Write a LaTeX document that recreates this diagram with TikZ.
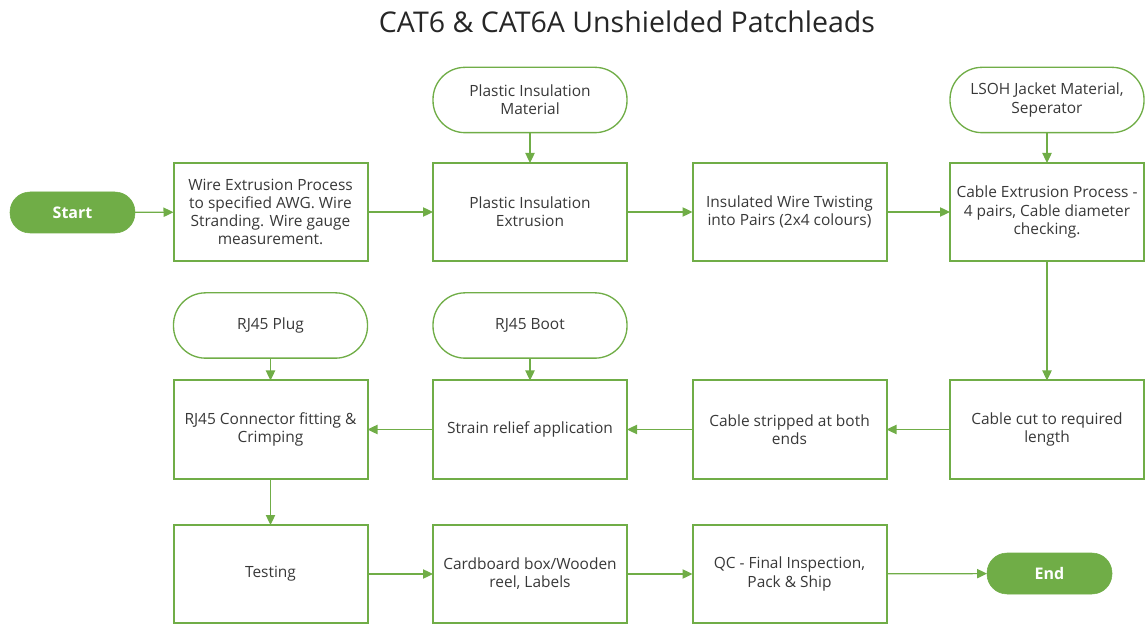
\documentclass[tikz,border=0pt]{standalone}
\usepackage{fontspec}
\setmainfont{Open Sans}
\usetikzlibrary{arrows.meta}
\definecolor{ogreen}{HTML}{70AD47}
\definecolor{txt}{HTML}{383838}
\begin{document}
\begin{tikzpicture}[x=0.75pt,y=-0.75pt,
  every node/.style={font=\fontsize{11.6}{13.6}\selectfont, text=txt, align=center, inner sep=0pt, outer sep=0pt},
  procbox/.style={draw=ogreen, line width=1.5pt, minimum width=145.5pt, minimum height=73.5pt},
  inbox/.style={draw=ogreen, line width=1pt, rounded corners=24pt, minimum width=145.5pt, minimum height=49pt},
  term/.style={fill=ogreen, draw=ogreen, rounded corners=15pt, minimum width=93.75pt, minimum height=30.75pt, text=white, font=\fontsize{12}{14}\selectfont\bfseries},
  flow/.style={draw=ogreen, line width=0.9pt, -{Triangle[length=7.5pt,width=7pt]}}]
\useasboundingbox (0,0) rectangle (1145,630);
\node[font=\fontsize{21.4}{25}\selectfont, text=black!85] (title) at (627,22) {CAT6 \& CAT6A Unshielded Patchleads};
% row 1
\node[term] (start) at (72.5,212.5) {Start};
\node[procbox] (wire) at (270.5,212) {Wire Extrusion Process\\to specified AWG. Wire\\Stranding. Wire gauge\\measurement.};
\node[procbox] (plext) at (530,212) {Plastic Insulation\\Extrusion};
\node[procbox] (twist) at (789.5,212) {Insulated Wire Twisting\\into Pairs (2x4 colours)};
\node[procbox] (cabext) at (1047,212) {Cable Extrusion Process -\\4 pairs, Cable diameter\\checking.};
\node[inbox] (plmat) at (530,100) {Plastic Insulation\\Material};
\node[inbox] (lsoh) at (1047,100) {LSOH Jacket Material,\\Seperator};
% row 2
\node[procbox] (rj) at (270.5,429.5) {RJ45 Connector fitting \&\\Crimping};
\node[procbox] (strain) at (530,429.5) {Strain relief application};
\node[procbox] (strip) at (789.5,429.5) {Cable stripped at both\\ends};
\node[procbox] (cut) at (1047,429.5) {Cable cut to required\\length};
\node[inbox] (plug) at (270.5,325.5) {RJ45 Plug};
\node[inbox] (boot) at (530,325.5) {RJ45 Boot};
% row 3
\node[procbox] (test) at (270.5,574) {Testing};
\node[procbox] (box) at (530,574) {Cardboard box/Wooden\\reel, Labels};
\node[procbox] (qc) at (789.5,574) {QC - Final Inspection,\\Pack \& Ship};
\node[term] (end) at (1049.5,573.5) {End};
% connectors
\draw[flow] (start) -- (wire);
\draw[flow] (wire) -- (plext);
\draw[flow] (plext) -- (twist);
\draw[flow] (twist) -- (cabext);
\draw[flow] (plmat) -- (plext);
\draw[flow] (lsoh) -- (cabext);
\draw[flow] (cabext) -- (cut);
\draw[flow] (cut) -- (strip);
\draw[flow] (strip) -- (strain);
\draw[flow] (strain) -- (rj);
\draw[flow] (plug) -- (rj);
\draw[flow] (boot) -- (strain);
\draw[flow] (rj) -- (test);
\draw[flow] (test) -- (box);
\draw[flow] (box) -- (qc);
\draw[flow] (qc) -- (end);
\end{tikzpicture}
\end{document}
